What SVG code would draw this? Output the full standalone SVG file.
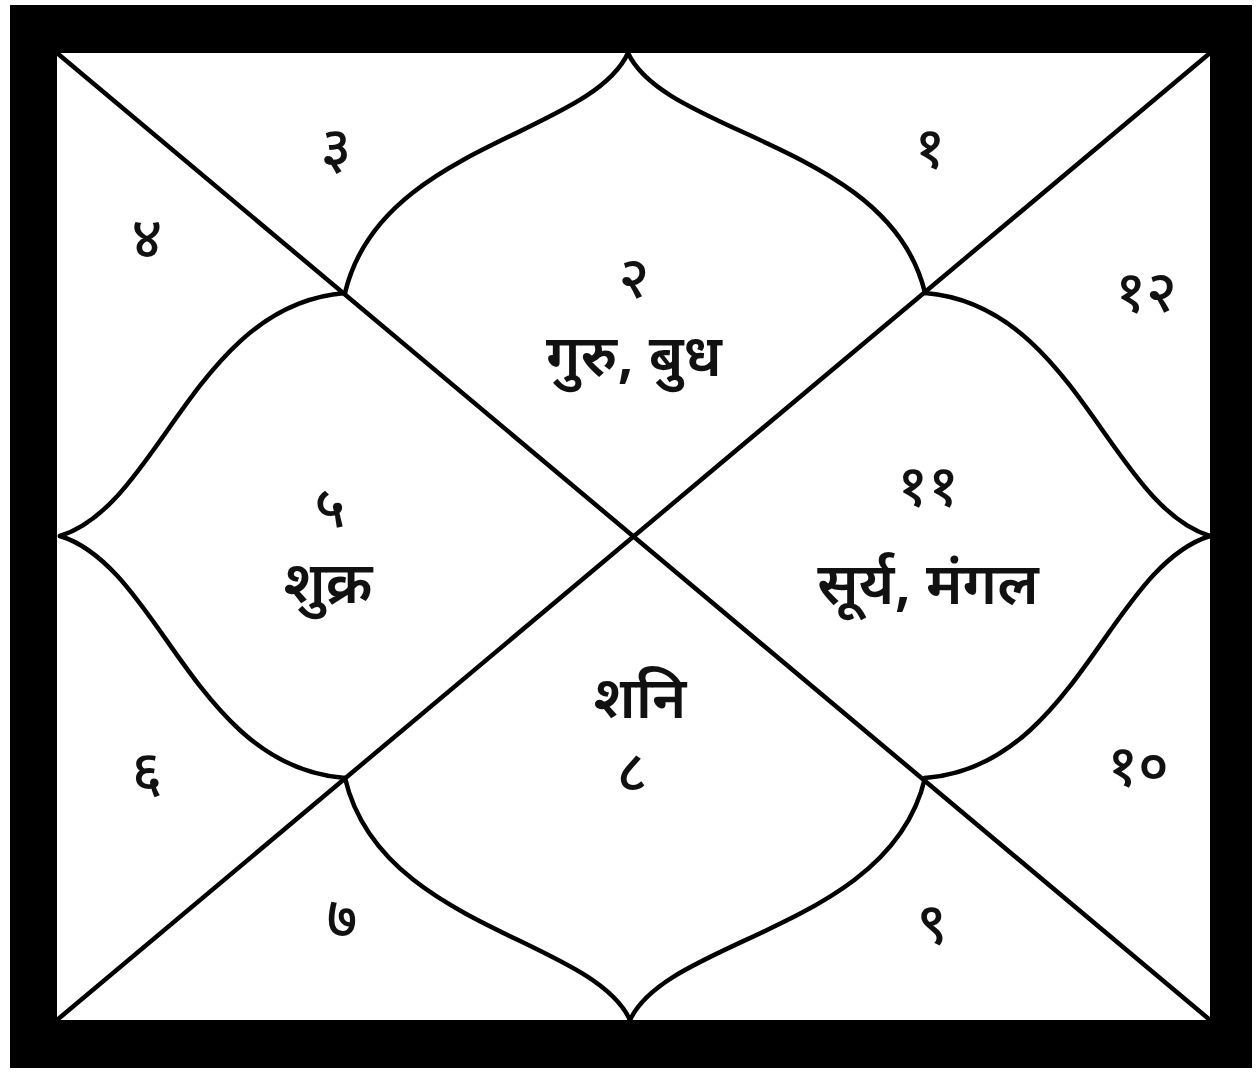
<svg xmlns="http://www.w3.org/2000/svg" width="1256" height="1072" viewBox="0 0 1256 1072">
<style>
.ln{fill:none;stroke:#000;stroke-width:4.5;stroke-linecap:round;stroke-linejoin:round}
.t{font-family:"Noto Sans Devanagari","Lohit Devanagari","Noto Sans","DejaVu Sans",sans-serif;font-size:58px;font-weight:600;fill:#111;text-anchor:middle}
.n{font-family:"Noto Sans Devanagari","Lohit Devanagari","Noto Sans","DejaVu Sans",sans-serif;font-size:58px;font-weight:500;fill:#111;text-anchor:middle}
</style>
<rect x="0" y="0" width="1256" height="1072" fill="#fff"/>
<g id="frame">
<rect x="10" y="5" width="1242" height="1063" fill="#000"/>
<rect x="57" y="53" width="1153" height="967" fill="#fff"/>
</g>
<g id="connectors">
<path class="ln" d="M57,53 L1210,1020"/>
<path class="ln" d="M1210,53 L57,1020"/>
<path class="ln" d="M628,53 C590,135 380,145 345,293"/>
<path class="ln" d="M628,53 C666,135 890,145 925,293"/>
<path class="ln" d="M630,1020 C592,938 380,928 345,778"/>
<path class="ln" d="M630,1020 C668,938 890,928 925,778"/>
<path class="ln" d="M60,536 C160,505 195,305 345,293"/>
<path class="ln" d="M60,536 C160,567 195,767 345,778"/>
<path class="ln" d="M1210,536 C1110,505 1075,305 925,293"/>
<path class="ln" d="M1210,536 C1110,567 1075,767 925,778"/>
</g>
<g id="h1"><text class="n" x="930" y="168">१</text></g>
<g id="h2"><text class="n" x="634" y="298">२</text><text class="t" x="634" y="376">गुरु, बुध</text></g>
<g id="h3"><text class="n" x="336" y="168">३</text></g>
<g id="h4"><text class="n" x="147" y="258">४</text></g>
<g id="h5"><text class="n" x="330" y="527">५</text><text class="t" x="328" y="603">शुक्र</text></g>
<g id="h6"><text class="n" x="147" y="792">६</text></g>
<g id="h7"><text class="n" x="342" y="938">७</text></g>
<g id="h8"><text class="t" x="640" y="718">शनि</text><text class="n" x="632" y="792">८</text></g>
<g id="h9"><text class="n" x="932" y="944">९</text></g>
<g id="h10"><text class="n" x="1138" y="786">१०</text></g>
<g id="h11"><text class="n" x="928" y="506">११</text><text class="t" x="928" y="604">सूर्य, मंगल</text></g>
<g id="h12"><text class="n" x="1146" y="312">१२</text></g>
</svg>
